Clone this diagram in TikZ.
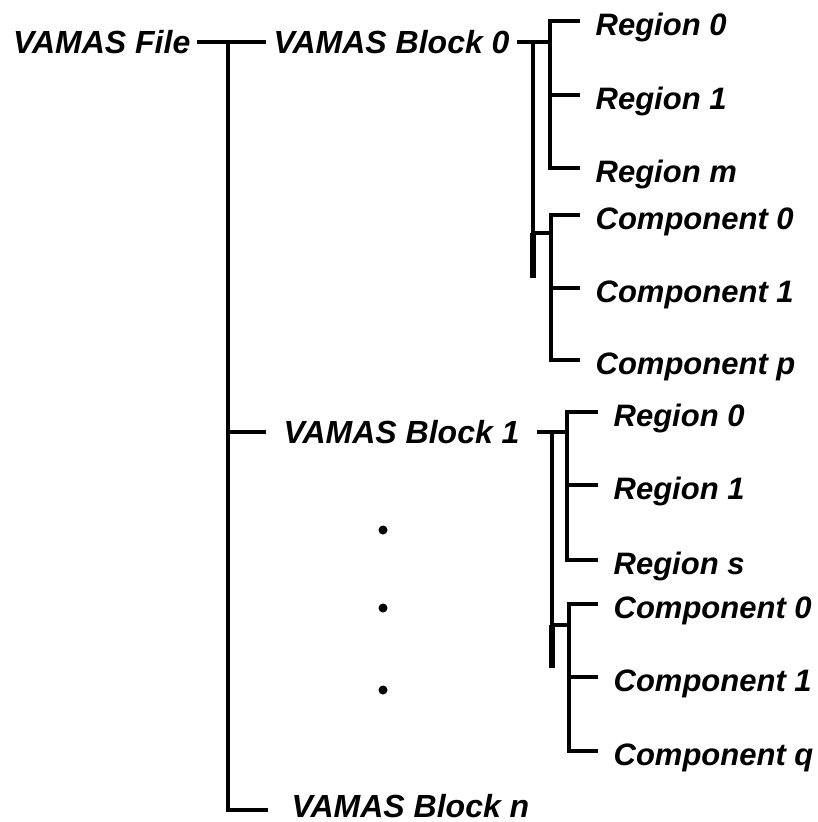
\documentclass[tikz,border=0pt]{standalone}
\usepackage{fontspec}
\setmainfont{Liberation Sans}
\begin{document}
\begin{tikzpicture}[x=1pt,y=-1pt,line width=3.3pt,
  every node/.style={font=\fontsize{32}{38}\selectfont\bfseries\itshape,inner sep=0pt},
  blocknode/.style={anchor=west,text height=23pt,text depth=0pt},
  leafnode/.style={anchor=west,inner xsep=14pt,text height=29pt,text depth=0pt,
    font=\fontsize{31}{37}\selectfont\bfseries\itshape}]
  \useasboundingbox (0,0) rectangle (817,822);
  % file and blocks
  \node[anchor=east,inner xsep=5pt,text height=23pt,text depth=0pt] (file) at (197,42) {VAMAS File};
  \node[blocknode,inner xsep=6pt] (b0) at (266,42) {VAMAS Block 0};
  \node[blocknode,inner xsep=16pt] (b1) at (266,432) {VAMAS Block 1};
  \node[blocknode,inner xsep=22pt,text height=14pt] (bn) at (268,810) {VAMAS Block n};
  \coordinate (root) at (228,42);
  \draw (file.east) -- (b0.west);
  \draw (root) |- (bn.west);
  \draw (b1.west -| root) -- (b1.west);
  \foreach \y in {530,608,690}
    \fill (383,\y) circle[radius=4.5];
  % block 0
  \foreach \n/\y/\t in {r00/21/Region 0,r01/95/Region 1,r0m/168/Region m,c00/215/Component 0,c01/288/Component 1,c0p/360/Component p}
    \node[leafnode] (\n) at (580,\y) {\t};
  \coordinate (s0) at (533,42);
  \coordinate (g0) at (550,42);
  \coordinate (t0) at (533,233);
  \coordinate (e0) at (533,278);
  \coordinate (h0) at (551,233);
  \draw (b0.east) -- (g0);
  \draw (r00.west) -| (g0) |- (r0m.west);
  \draw (r01.west) -- (r01.west -| g0);
  \draw (s0) -- (t0);
  \draw[line width=6pt] (t0) -- (e0);
  \draw (t0) -- (h0);
  \draw (c00.west) -| (h0) |- (c0p.west);
  \draw (c01.west) -- (c01.west -| h0);
  % block 1
  \foreach \n/\y/\t in {r10/412/Region 0,r11/485/Region 1,r1s/560/Region s,c10/604/Component 0,c11/677/Component 1,c1q/751/Component q}
    \node[leafnode] (\n) at (598,\y) {\t};
  \coordinate (s1) at (552,432);
  \coordinate (g1) at (567,432);
  \coordinate (t1) at (552,625);
  \coordinate (e1) at (552,668);
  \coordinate (h1) at (569,625);
  \draw (b1.east) -- (g1);
  \draw (r10.west) -| (g1) |- (r1s.west);
  \draw (r11.west) -- (r11.west -| g1);
  \draw (s1) -- (t1);
  \draw[line width=6pt] (t1) -- (e1);
  \draw (t1) -- (h1);
  \draw (c10.west) -| (h1) |- (c1q.west);
  \draw (c11.west) -- (c11.west -| h1);
\end{tikzpicture}
\end{document}
